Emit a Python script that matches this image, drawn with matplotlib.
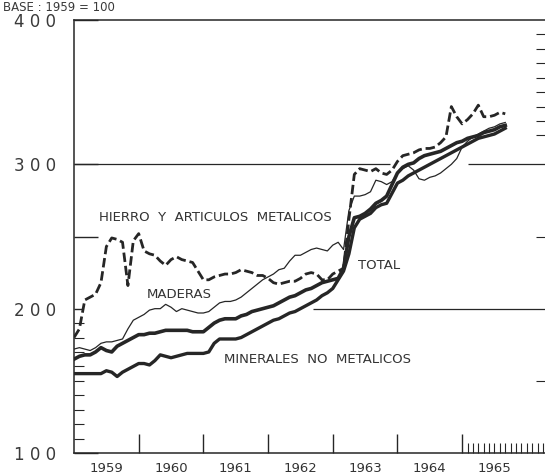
import numpy as np
import matplotlib.pyplot as plt

# monthly index values, Jan 1959 .. Sep 1965
months = 1959 + np.arange(81) / 12

hierro = [180, 186, 206, 208, 210, 218, 243, 249, 248, 246,
          216, 247, 252, 240, 238, 237, 233, 230, 234, 236,
          234, 233, 232, 226, 220, 220, 222, 223, 224, 224,
          225, 227, 226, 225, 223, 223, 221, 218, 217, 218,
          219, 219, 221, 224, 225, 224, 220, 220, 224, 226,
          228, 262, 293, 297, 296, 295, 297, 294, 293, 296,
          302, 306, 307, 308, 310, 311, 311, 312, 315, 319,
          340, 333, 328, 331, 335, 341, 333, 333, 334, 336, 335]

maderas = [172, 173, 172, 171, 173, 176, 177, 177, 178, 179,
           186, 192, 194, 196, 199, 200, 200, 203, 201, 198,
           200, 199, 198, 197, 197, 198, 201, 204, 205, 205,
           206, 208, 211, 214, 217, 220, 222, 224, 227, 228,
           233, 237, 237, 239, 241, 242, 241, 240, 244, 246,
           241, 268, 278, 278, 279, 281, 289, 288, 286, 288,
           294, 297, 299, 296, 290, 289, 291, 292, 294, 297,
           300, 304, 312, 316, 319, 321, 323, 325, 326, 328, 329]

total = [165, 167, 168, 168, 170, 173, 171, 170, 174, 176,
         178, 180, 182, 182, 183, 183, 184, 185, 185, 185,
         185, 185, 184, 184, 184, 187, 190, 192, 193, 193,
         193, 195, 196, 198, 199, 200, 201, 202, 204, 206,
         208, 209, 211, 213, 214, 216, 218, 219, 220, 221,
         228, 250, 263, 264, 266, 269, 273, 275, 278, 286,
         294, 298, 300, 301, 304, 306, 307, 308, 309, 311,
         313, 315, 316, 318, 319, 320, 322, 323, 324, 326, 327]

minerales = [155, 155, 155, 155, 155, 155, 157, 156, 153, 156,
             158, 160, 162, 162, 161, 164, 168, 167, 166, 167,
             168, 169, 169, 169, 169, 170, 176, 179, 179, 179,
             179, 180, 182, 184, 186, 188, 190, 192, 193, 195,
             197, 198, 200, 202, 204, 206, 209, 211, 214, 220,
             226, 238, 256, 262, 264, 266, 270, 272, 273, 280,
             287, 289, 292, 294, 296, 298, 300, 302, 304, 306,
             308, 310, 312, 314, 316, 318, 319, 320, 321, 323, 325]

years = [1959, 1960, 1961, 1962, 1963, 1964, 1965]
ytick_vals = [100, 200, 250, 300, 400]
ytick_text = ['1 0 0', '2 0 0', '', '3 0 0', '4 0 0']
left_minor = [110, 120, 130, 140, 150, 160, 170, 180, 190]
right_ticks = [150, 250, 320, 330, 340, 350, 360, 370, 380, 390]

ink = '#262626'
plt.rcParams['font.family'] = ['DejaVu Sans']

fig = plt.figure(figsize=(5.45, 4.75), dpi=100)
ax = fig.add_axes([0.1358, 0.0463, 0.870, 0.9116])
ax.set_xlim(1959, 1966.33)
ax.set_ylim(100, 400)

ax.plot(months, maderas, color=ink, lw=0.9)
ax.plot(months, minerales, color=ink, lw=2.4)
ax.plot(months, total, color=ink, lw=2.6)
ax.plot(months, hierro, color=ink, lw=2.0, dashes=(3.4, 1.4))

# reference lines
ax.hlines(300, 1959, 1963.88, color=ink, lw=0.9)
ax.hlines(300, 1965.09, 1966.33, color=ink, lw=0.9)
ax.hlines(200, 1962.69, 1966.33, color=ink, lw=0.9)

for s in ['left', 'bottom', 'top']:
    ax.spines[s].set_color(ink)
    ax.spines[s].set_linewidth(1.1)
ax.spines['right'].set_visible(False)

# x axis
ax.set_xticks(years[1:], [''] * 6)
ax.set_xticks([1965 + k / 12 for k in range(1, 16)], minor=True)
ax.tick_params(axis='x', which='major', direction='in', length=14, width=1, color=ink)
ax.tick_params(axis='x', which='minor', direction='in', length=7, width=0.8, color=ink)
for y in years:
    ax.text(y + 0.5, -0.035, str(y), transform=ax.get_xaxis_transform(),
            ha='center', va='center', fontsize=9.5, color='#333333')

# y axis
ax.set_yticks(ytick_vals, ytick_text)
ax.set_yticks(left_minor, minor=True)
ax.tick_params(axis='y', which='major', direction='in', length=17, width=1,
               color=ink, pad=13, labelsize=12, labelcolor='#3a3a3a')
ax.tick_params(axis='y', which='minor', direction='in', length=7, width=0.8, color=ink)
ax.yaxis.get_major_ticks()[1].tick1line.set_markersize(6)

sec = ax.secondary_yaxis('right')
sec.set_yticks(right_ticks)
sec.tick_params(direction='in', length=9, width=0.8, color=ink, labelright=False)
sec.spines['right'].set_visible(False)

# series labels
lab = dict(ha='center', va='center', fontsize=9.5, color='#333333')
ax.text(1961.18, 263, 'HIERRO  Y  ARTICULOS  METALICOS', **lab)
ax.text(1960.62, 210, 'MADERAS', **lab)
ax.text(1963.71, 230, 'TOTAL', **lab)
ax.text(1962.77, 165, 'MINERALES  NO  METALICOS', **lab)

fig.text(0.005, 0.998, 'BASE : 1959 = 100', ha='left', va='top',
         fontsize=8.5, color='#3a3a3a')

fig.savefig('out.png', dpi=100)
